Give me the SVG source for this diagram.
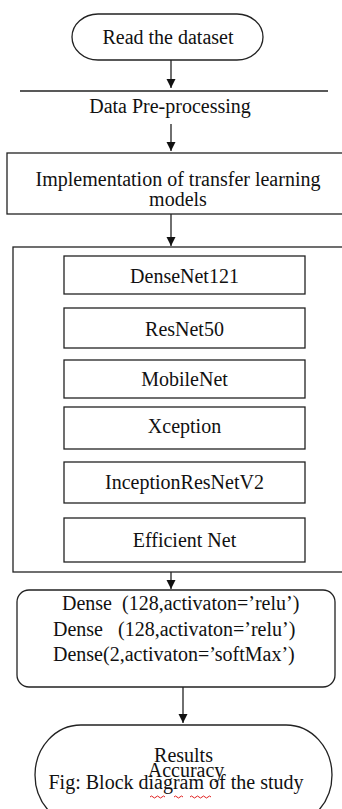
<svg xmlns="http://www.w3.org/2000/svg" width="342" height="809" viewBox="0 0 342 809">
<defs>
<style>
.s{fill:#fff;stroke:#222;stroke-width:1.3}
.l{fill:none;stroke:#222;stroke-width:1.3}
.c{text-anchor:middle}
.w{fill:none;stroke:#e02020;stroke-width:1}
</style>
<marker id="ah" markerWidth="10" markerHeight="10" refX="9" refY="5" orient="auto" markerUnits="userSpaceOnUse">
<path d="M0,0.5 L9,5 L0,9.5 Z" fill="#111"/>
</marker>
</defs>
<rect width="342" height="809" fill="#fff"/>

<g id="connectors">
<line class="l" x1="171" y1="60" x2="171" y2="88" marker-end="url(#ah)"/>
<line class="l" x1="171" y1="124" x2="171" y2="151" marker-end="url(#ah)"/>
<line class="l" x1="171" y1="214" x2="171" y2="246" marker-end="url(#ah)"/>
<line class="l" x1="171" y1="572" x2="171" y2="589" marker-end="url(#ah)"/>
<line class="l" x1="183" y1="687" x2="183" y2="723" marker-end="url(#ah)"/>
</g>

<g font-family="'Liberation Serif', 'Times New Roman', serif" font-size="20" fill="#111">
<g id="read">
<rect class="s" x="72" y="14" width="191" height="46" rx="26" ry="23"/>
<text class="c" x="168" y="44">Read the dataset</text>
</g>

<g id="preprocess">
<line class="l" x1="20" y1="91" x2="328" y2="91"/>
<text class="c" x="170" y="113">Data Pre-processing</text>
</g>

<g id="implementation">
<rect class="s" x="7" y="153" width="340" height="61"/>
<text class="c" x="178" y="186">Implementation of transfer learning</text>
<text class="c" x="178" y="206">models</text>
</g>

<g id="models">
<rect class="s" x="13" y="247" width="334" height="325"/>
<g id="densenet"><rect class="s" x="64" y="256" width="241" height="38"/><text class="c" x="184.5" y="283">DenseNet121</text></g>
<g id="resnet"><rect class="s" x="64" y="308" width="241" height="40"/><text class="c" x="184.5" y="336">ResNet50</text></g>
<g id="mobilenet"><rect class="s" x="64" y="360" width="241" height="38"/><text class="c" x="184.5" y="386">MobileNet</text></g>
<g id="xception"><rect class="s" x="64" y="407" width="241" height="42"/><text class="c" x="184.5" y="433">Xception</text></g>
<g id="inception"><rect class="s" x="64" y="462" width="241" height="41"/><text class="c" x="184.5" y="489">InceptionResNetV2</text></g>
<g id="efficientnet"><rect class="s" x="64" y="518" width="241" height="44"/><text class="c" x="184.5" y="547">Efficient Net</text></g>
</g>

<g id="dense">
<rect class="s" x="17" y="590" width="318" height="97" rx="12" ry="12"/>
<text x="62" y="610" xml:space="preserve">Dense  (128,activaton=’relu’)</text>
<text x="53" y="636" xml:space="preserve">Dense   (128,activaton=’relu’)</text>
<text x="53" y="661">Dense(2,activaton=’softMax’)</text>
</g>

<g id="results">
<rect class="s" x="35" y="725" width="297" height="100" rx="46" ry="50"/>
<text class="c" x="183.5" y="762">Results</text>
<text class="c" x="186" y="777">Accuracy</text>
<text class="c" x="176" y="789">Fig: Block diagram of the study</text>
<path class="w" d="M150,797 q1.5,-2 3,0 t3,0 t3,0 t3,0 t3,0"/>
<path class="w" d="M174,797 q1.5,-2 3,0 t3,0 t3,0"/>
<path class="w" d="M190,797 q1.5,-2 3,0 t3,0 t3,0 t3,0 t3,0 t3,0 t3,0"/>
</g>
</g>
</svg>
